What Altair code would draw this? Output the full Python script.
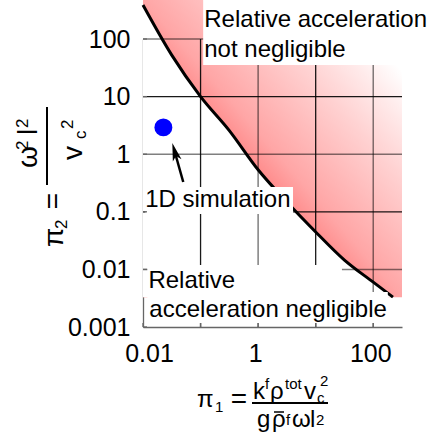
import math
import altair as alt
import pandas as pd

# ---------------- data ----------------
# boundary curve (pi1, pi2)
curve_x = [0.01, 0.0316, 0.1, 0.316, 1, 3.16, 10, 31.6, 100, 220]
curve_y = [389, 52.5, 10, 2.57, 0.537, 0.148, 0.0447, 0.0145, 0.006, 0.0033]
# shaded region extent
region_x = [0.01, 316]
region_y = [0.0033, 475]

# simulation point
sim_x = [0.0226]
sim_y = [2.92]

# arrow: tail -> tip
arrow_x = [0.050, 0.0323]
arrow_y = [0.329, 1.56]

# axes
x_domain = [0.01, 316]
y_domain = [0.001, 100]
x_ticks = [0.01, 0.1, 1, 10, 100]
x_tick_labels = ["0.01", "1", "100"]
y_ticks = [0.001, 0.01, 0.1, 1, 10, 100]
grid_y_dark = [10, 0.1]
grid_y_light = [100, 1, 0.01]
grid_x_dark = [0.1, 10]
grid_x_light = [1, 100]

# annotation texts and their white boxes (data coordinates)
ann_text = ["Relative acceleration", "not negligible", "1D simulation",
            "Relative", "acceleration negligible"]
ann_x = [0.116, 0.116, 0.0109, 0.0124, 0.0129]
ann_y = [161, 48.7, 0.121, 0.00475, 0.00149]

box_x1 = [0.111, 0.011, 0.0119, 0.0119]
box_x2 = [916, 4.04, 28.6, 179]
box_y1 = [475, 0.27, 0.0119, 0.00405]
box_y2 = [35.4, 0.0916, 0.00405, 0.00117]

FONT = "Liberation Sans"

# ---------------- layout of axis titles (pixels rel. to plot origin) ----------------
title_pieces = [
    # text, x, y, size, angle, align
    ("π", 54, 368, 24, 0, "left"),
    ("1", 72, 373, 15, 0, "left"),
    ("=", 96, 369, 28, 0, "center"),
    ("k", 110, 360, 24, 0, "left"),
    ("f", 122, 350, 15, 0, "left"),
    ("ρ", 127, 360, 24, 0, "left"),
    ("tot", 142, 350, 15, 0, "left"),
    ("v", 161, 360, 24, 0, "left"),
    ("c", 174, 364, 15, 0, "left"),
    ("2", 177, 347, 15, 0, "left"),
    ("g", 114, 388, 24, 0, "left"),
    ("ρ", 129, 388, 24, 0, "left"),
    ("f", 143, 386, 15, 0, "left"),
    ("ω", 149, 388, 24, 0, "left"),
    ("l", 167, 388, 24, 0, "left"),
    ("2", 173, 386, 15, 0, "left"),
    # y title (rotated)
    ("π", -80, 208, 28, 270, "left"),
    ("2", -76, 190, 17, 270, "left"),
    ("=", -81, 162, 28, 270, "center"),
    ("ω", -106, 129, 28, 270, "left"),
    ("2", -115, 111, 17, 270, "left"),
    ("l", -106, 96, 28, 270, "left"),
    ("2", -115, 89, 17, 270, "left"),
    ("v", -61, 121, 28, 270, "left"),
    ("c", -57, 100, 17, 270, "left"),
    ("2", -70, 90, 17, 270, "left"),
]
title_bars = [(109, 185, 364, 364, 2), (-96, -96, 68, 146, 2), (131, 141, 373, 373, 1.5)]

xs = alt.Scale(type="log", domain=x_domain, nice=False)
ys = alt.Scale(type="log", domain=y_domain, nice=False)

label_list = "[" + ",".join("'%s'" % s for s in x_tick_labels) + "]"
x_axis = alt.Axis(values=x_ticks, format="~g", title=None, grid=False, ticks=False,
                  labelExpr=f"indexof({label_list}, datum.label) >= 0 ? datum.label : ''",
                  labelFlush=False, labelPadding=14,
                  labelOffset={"condition": {"test": "datum.value < 0.05", "value": 6}, "value": -3})
y_axis = alt.Axis(values=y_ticks, format="~g", title=None, grid=False, ticks=False,
                  labelPadding=13, labelFlush=False)


def X(f):
    return alt.X(f, scale=xs, axis=x_axis)


def Y(f):
    return alt.Y(f, scale=ys, axis=y_axis)


# shaded region: gradient rectangle, then white area below the curve
grad = alt.LinearGradient(
    gradient="linear",
    stops=[alt.GradientStop(color="#ff7a7a", offset=0),
           alt.GradientStop(color="#ff8686", offset=0.42),
           alt.GradientStop(color="#ffa6a6", offset=0.5),
           alt.GradientStop(color="#ffbcbc", offset=0.6),
           alt.GradientStop(color="#ffd2d2", offset=0.7),
           alt.GradientStop(color="#ffeaea", offset=0.8),
           alt.GradientStop(color="#ffffff", offset=0.88),
           alt.GradientStop(color="#ffffff", offset=1)],
    x1=0, y1=1, x2=1, y2=0)
reg_df = pd.DataFrame({"x": [region_x[0]], "x2": [region_x[1]], "y": [region_y[0]], "y2": [region_y[1]]})
reg = alt.Chart(reg_df).mark_rect(color=grad, clip=False).encode(
    x=X("x:Q"), x2="x2:Q", y=Y("y:Q"), y2="y2:Q")

curve_df = pd.DataFrame({"x": curve_x, "y": curve_y, "b": [region_y[0]] * len(curve_x)})
below = alt.Chart(curve_df).mark_area(color="white", opacity=1, clip=False, interpolate="monotone").encode(
    x=X("x:Q"), y=Y("y:Q"), y2="b:Q")


def hrules(vals, op, w):
    return alt.Chart(pd.DataFrame({"v": vals})).mark_rule(color="black", opacity=op, strokeWidth=w).encode(
        y=Y("v:Q"))


def vrules(vals, op, w):
    return alt.Chart(pd.DataFrame({"v": vals})).mark_rule(color="black", opacity=op, strokeWidth=w).encode(
        x=X("v:Q"))


grid = (hrules(grid_y_light, 0.5, 1.5) + hrules(grid_y_dark, 0.9, 1.3)
        + vrules(grid_x_light, 0.5, 1.5) + vrules(grid_x_dark, 0.9, 1.3))

curve = alt.Chart(curve_df).mark_line(color="black", strokeWidth=3, clip=False, interpolate="monotone").encode(
    x=X("x:Q"), y=Y("y:Q"))

point = alt.Chart(pd.DataFrame({"x": sim_x, "y": sim_y})).mark_circle(
    color="#0000ff", opacity=1, size=320).encode(x=X("x:Q"), y=Y("y:Q"))

# arrow shaft ends a little behind the tip (in log space)
lx = [math.log10(v) for v in arrow_x]
ly = [math.log10(v) for v in arrow_y]
shaft_end = (10 ** (lx[1] + 0.3 * (lx[0] - lx[1])), 10 ** (ly[1] + 0.3 * (ly[0] - ly[1])))
shaft_df = pd.DataFrame({"x": [arrow_x[0]], "y": [arrow_y[0]], "x2": [shaft_end[0]], "y2": [shaft_end[1]]})
shaft = alt.Chart(shaft_df).mark_rule(color="black", strokeWidth=2.5).encode(
    x=X("x:Q"), y=Y("y:Q"), x2="x2:Q", y2="y2:Q")
# direction tip -> tail on screen (screen y grows downward)
ang = math.degrees(math.atan2((lx[0] - lx[1]) * 57.7, -(ly[0] - ly[1]) * 57.6))
head = alt.Chart(pd.DataFrame({"x": [arrow_x[1]], "y": [arrow_y[1]]})).mark_point(
    shape="M0,0 L0.45,1.8 L0,1.35 L-0.45,1.8 Z", filled=True, color="black", opacity=1,
    size=400, angle=(360 - ang) % 360).encode(x=X("x:Q"), y=Y("y:Q"))

box_df = pd.DataFrame({"x": box_x1, "x2": box_x2, "y": box_y1, "y2": box_y2})
boxes = alt.Chart(box_df).mark_rect(color="white", clip=False).encode(
    x=X("x:Q"), x2="x2:Q", y=Y("y:Q"), y2="y2:Q")

ann_df = pd.DataFrame({"t": ann_text, "x": ann_x, "y": ann_y})
ann = alt.Chart(ann_df).mark_text(font=FONT, fontSize=24, align="left", baseline="alphabetic",
                                  color="black").encode(x=X("x:Q"), y=Y("y:Q"), text="t:N")

# inward ticks
lt = alt.Chart(pd.DataFrame({"v": y_ticks})).mark_rule(color="#666", strokeWidth=1.3).encode(
    y=Y("v:Q"), x=alt.value(0), x2=alt.value(4))
bt = alt.Chart(pd.DataFrame({"v": x_ticks})).mark_rule(color="#666", strokeWidth=1.3).encode(
    x=X("v:Q"), y=alt.value(288), y2=alt.value(284))

dummy = pd.DataFrame({"d": [0]})
title_layers = []
for t, px, py, fs, a, al in title_pieces:
    title_layers.append(alt.Chart(dummy).mark_text(
        text=t, font=FONT, fontSize=fs, angle=a, align=al, baseline="alphabetic", color="black"
    ).encode(x=alt.value(px), y=alt.value(py)))
for x1, x2, y1, y2, w in title_bars:
    title_layers.append(alt.Chart(dummy).mark_rule(color="black", strokeWidth=w).encode(
        x=alt.value(x1), x2=alt.value(x2), y=alt.value(y1), y2=alt.value(y2)))

chart = alt.layer(reg, below, grid, curve, point, shaft, head, boxes, ann, lt, bt,
                  *title_layers).properties(
    width=259, height=288, autosize="none",
    padding={"left": 143, "top": 39, "right": 27, "bottom": 120},
    background="white",
).configure_view(stroke=None).configure_axis(
    labelFont=FONT, labelFontSize=25, labelColor="black",
    domainColor="#666", domainWidth=1.3,
)

chart.save("out.html", embed_options={"renderer": "svg", "actions": False})
